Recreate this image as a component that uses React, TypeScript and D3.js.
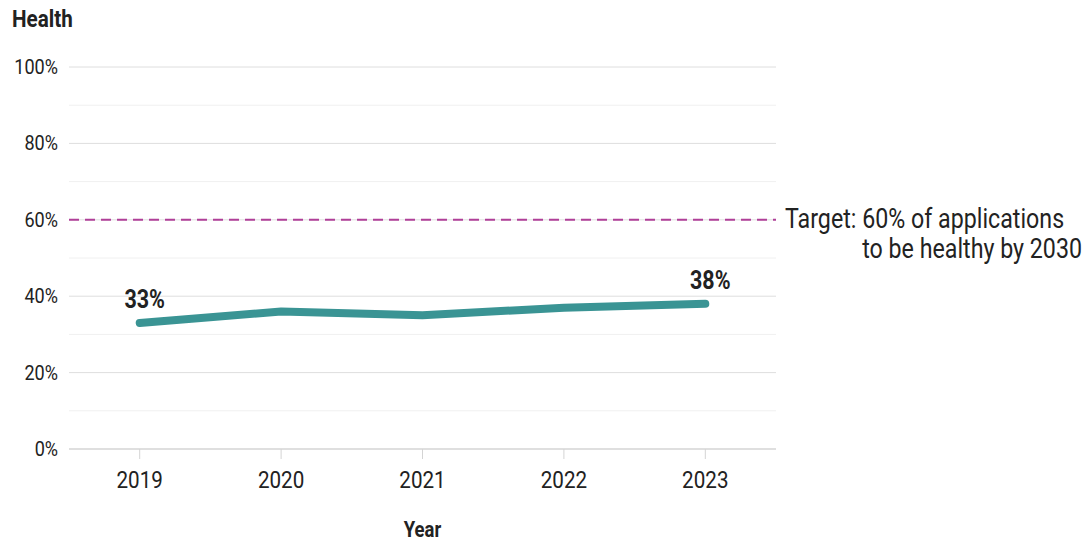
import React, { useEffect, useRef } from 'react';
import * as d3 from 'd3';

const years = ['2019', '2020', '2021', '2022', '2023'];
const healthy = [33, 36, 35, 37, 38];
const majorTicks = [0, 20, 40, 60, 80, 100];
const minorTicks = [10, 30, 50, 70, 90];
const targetValue = 60;
const targetLines = ['Target: 60% of applications', 'to be healthy by 2030'];

const FONT = 'Roboto, "Noto Sans", sans-serif';
const SQUEEZE = 0.86; // fake a condensed face

const Chart = () => {
  const svgRef = useRef<SVGSVGElement>(null);

  useEffect(() => {
    if (!svgRef.current) return;
    const svg = d3.select(svgRef.current);
    svg.selectAll('*').remove();

    const left = 69;
    const right = 776;
    const top = 67;
    const bottom = 449;

    const x = d3.scalePoint<string>().domain(years).range([left, right]).padding(0.5);
    const y = d3.scaleLinear().domain([0, 100]).range([bottom, top]);

    const at = (px: number, py: number) => `translate(${px},${py}) scale(${SQUEEZE},1)`;

    // minor grid
    svg.append('g')
      .selectAll('line')
      .data(minorTicks)
      .enter()
      .append('line')
      .attr('x1', left)
      .attr('x2', right)
      .attr('y1', d => y(d))
      .attr('y2', d => y(d))
      .attr('stroke', '#f0f0f0')
      .attr('stroke-width', 1);

    // major grid
    svg.append('g')
      .selectAll('line')
      .data(majorTicks)
      .enter()
      .append('line')
      .attr('x1', left)
      .attr('x2', right)
      .attr('y1', d => y(d))
      .attr('y2', d => y(d))
      .attr('stroke', d => (d === 0 ? '#d4d4d4' : '#dedede'))
      .attr('stroke-width', d => (d === 0 ? 1.5 : 1));

    // y tick labels
    svg.append('g')
      .selectAll('text')
      .data(majorTicks)
      .enter()
      .append('text')
      .attr('transform', d => at(58, y(d) + 7))
      .attr('text-anchor', 'end')
      .attr('font-family', FONT)
      .attr('font-size', 21)
      .attr('fill', '#222')
      .text(d => `${d}%`);

    // x ticks
    const xt = svg.append('g');
    xt.selectAll('line')
      .data(years)
      .enter()
      .append('line')
      .attr('x1', d => x(d)!)
      .attr('x2', d => x(d)!)
      .attr('y1', bottom)
      .attr('y2', bottom + 10)
      .attr('stroke', '#d4d4d4')
      .attr('stroke-width', 1);
    xt.selectAll('text')
      .data(years)
      .enter()
      .append('text')
      .attr('transform', d => at(x(d)!, 488))
      .attr('text-anchor', 'middle')
      .attr('font-family', FONT)
      .attr('font-size', 24)
      .attr('fill', '#222')
      .text(d => d);

    // axis titles
    svg.append('text')
      .attr('transform', at((left + right) / 2, 537))
      .attr('text-anchor', 'middle')
      .attr('font-family', FONT)
      .attr('font-weight', 'bold')
      .attr('font-size', 21.5)
      .attr('fill', '#222')
      .text('Year');
    svg.append('text')
      .attr('transform', at(12, 27))
      .attr('font-family', FONT)
      .attr('font-weight', 'bold')
      .attr('font-size', 24)
      .attr('fill', '#222')
      .text('Health');

    // target line
    svg.append('line')
      .attr('x1', left)
      .attr('x2', right)
      .attr('y1', y(targetValue))
      .attr('y2', y(targetValue))
      .attr('stroke', '#b03f98')
      .attr('stroke-width', 2)
      .attr('stroke-dasharray', '10,6');
    svg.append('text')
      .attr('transform', at(785, y(targetValue) + 8))
      .attr('font-family', FONT)
      .attr('font-size', 27)
      .attr('fill', '#222')
      .text(targetLines[0]);
    svg.append('text')
      .attr('transform', at(1082, y(targetValue) + 38))
      .attr('text-anchor', 'end')
      .attr('font-family', FONT)
      .attr('font-size', 27)
      .attr('fill', '#222')
      .text(targetLines[1]);

    // series line
    const line = d3.line<number>()
      .x((_, i) => x(years[i])!)
      .y(d => y(d));
    svg.append('path')
      .datum(healthy)
      .attr('d', line)
      .attr('fill', 'none')
      .attr('stroke', '#3a9494')
      .attr('stroke-width', 8)
      .attr('stroke-linecap', 'round')
      .attr('stroke-linejoin', 'round');

    // end labels
    const ends = [0, healthy.length - 1];
    svg.append('g')
      .selectAll('text')
      .data(ends)
      .enter()
      .append('text')
      .attr('transform', i => at(x(years[i])! + 5, y(healthy[i]) - 14.5))
      .attr('text-anchor', 'middle')
      .attr('font-family', FONT)
      .attr('font-weight', 'bold')
      .attr('font-size', 25)
      .attr('fill', '#222')
      .text(i => `${healthy[i]}%`);
  }, []);

  return (
    <svg
      ref={svgRef}
      width={1086}
      height={542}
      style={{ position: 'fixed', left: 0, top: 0, display: 'block', background: '#fff' }}
    />
  );
};

export default function App() {
  return <Chart />;
}
